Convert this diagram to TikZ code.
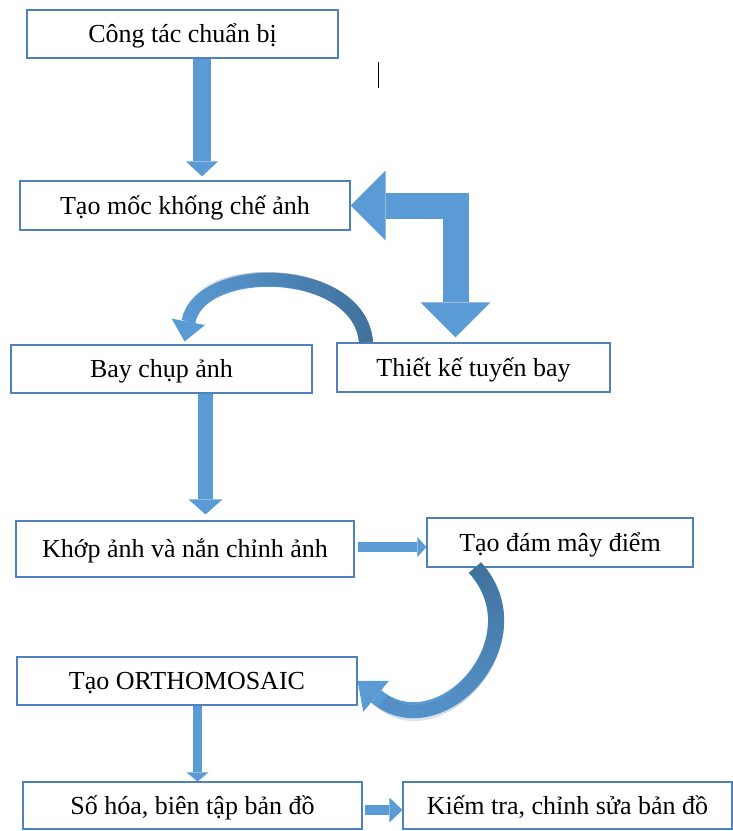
\documentclass[tikz,border=0pt]{standalone}
\usepackage{fontspec}
\setmainfont{Liberation Serif}
\usetikzlibrary{arrows.meta,fadings}
\definecolor{boxblue}{RGB}{79,129,189}
\definecolor{arrowblue}{RGB}{91,155,213}
\definecolor{darkblue}{RGB}{65,113,156}
\begin{document}
\begin{tikzpicture}[x=1pt,y=-1pt,
	box/.style={draw=boxblue,line width=1.2pt,fill=white,inner sep=0pt,
		font=\fontsize{26}{30}\selectfont,text height=22pt,text depth=5pt},
	fat/.style={draw=arrowblue,line width=#1,line join=miter},
	ahead/.style 2 args={-{Triangle[width=#1,length=#2,line width=0pt]}},
	bhead/.style 2 args={{Triangle[width=#1,length=#2,line width=0pt]}-{Triangle[width=#1,length=#2,line width=0pt]}}]
\useasboundingbox (0,0) rectangle (733,831);
\node[box,minimum width=311pt,minimum height=48pt] (cb) at (182.5,34) {Công tác chuẩn bị};
\node[box,minimum width=330pt,minimum height=49pt] (tm) at (185,205.5) {Tạo mốc khống chế ảnh};
\node[box,minimum width=301pt,minimum height=48pt] (bc) at (161.5,369) {Bay chụp ảnh};
\node[box,minimum width=273pt,minimum height=49pt] (tk) at (473.5,367.5) {Thiết kế tuyến bay};
\node[box,minimum width=338pt,minimum height=56pt] (kh) at (185,549) {Khớp ảnh và nắn chỉnh ảnh};
\node[box,minimum width=266pt,minimum height=49pt] (td) at (560,542.5) {Tạo đám mây điểm};
\node[box,minimum width=340pt,minimum height=48pt] (oc) at (187,681) {Tạo ORTHOMOSAIC};
\node[box,minimum width=339pt,minimum height=47pt] (sh) at (192.5,805.5) {Số hóa, biên tập bản đồ};
\node[box,minimum width=329pt,minimum height=47pt] (kt) at (567.5,805.5) {Kiếm tra, chỉnh sửa bản đồ};
% straight block arrows
\draw[fat=18pt,ahead={32pt}{15pt},shorten >=4pt] ([xshift=19.5pt]cb.south) -- ([xshift=19.5pt]cb.south |- tm.north);
\draw[fat=15pt,ahead={34pt}{15pt},shorten >=6pt] ([xshift=44pt]bc.south) -- ([xshift=44pt]bc.south |- kh.north);
\draw[fat=10pt,ahead={20pt}{9pt},shorten <=3pt] ([yshift=2pt]kh.east) -- ([yshift=2pt]kh.east -| td.west);
\draw[fat=9pt,ahead={22pt}{9pt}] ([xshift=10.5pt]oc.south) -- ([xshift=10.5pt]oc.south |- sh.north);
\draw[fat=10pt,ahead={25pt}{13pt},shorten <=2pt] ([yshift=-4.5pt]sh.east) -- ([yshift=-4.5pt]sh.east -| kt.west);
% bent double arrow
\draw[fat=26pt,bhead={70pt}{35pt},shorten >=5pt] (tm.east) -| ([xshift=-18pt]tk.north);
% curved arrows
\draw[fat=14pt,ahead={34pt}{20pt},shorten >=3pt] ([xshift=-107.5pt]tk.north) .. controls +(-6,-78) and +(16,-83) .. ([xshift=22.5pt]bc.north);
\draw[fat=14pt,draw=darkblue,path fading=west,shorten >=28pt] ([xshift=-107.5pt]tk.north) .. controls +(-6,-78) and +(16,-83) .. ([xshift=22.5pt]bc.north);
\draw[fat=16pt,ahead={40pt}{24pt}] ([xshift=-85pt]td.south) .. controls +(65,72) and +(82,68) .. (oc.east);
\draw[fat=16pt,draw=darkblue,path fading=south,shorten >=32pt] ([xshift=-85pt]td.south) .. controls +(65,72) and +(82,68) .. (oc.east);
\draw[line width=1pt] (378,62) -- (378,88);
\end{tikzpicture}
\end{document}
